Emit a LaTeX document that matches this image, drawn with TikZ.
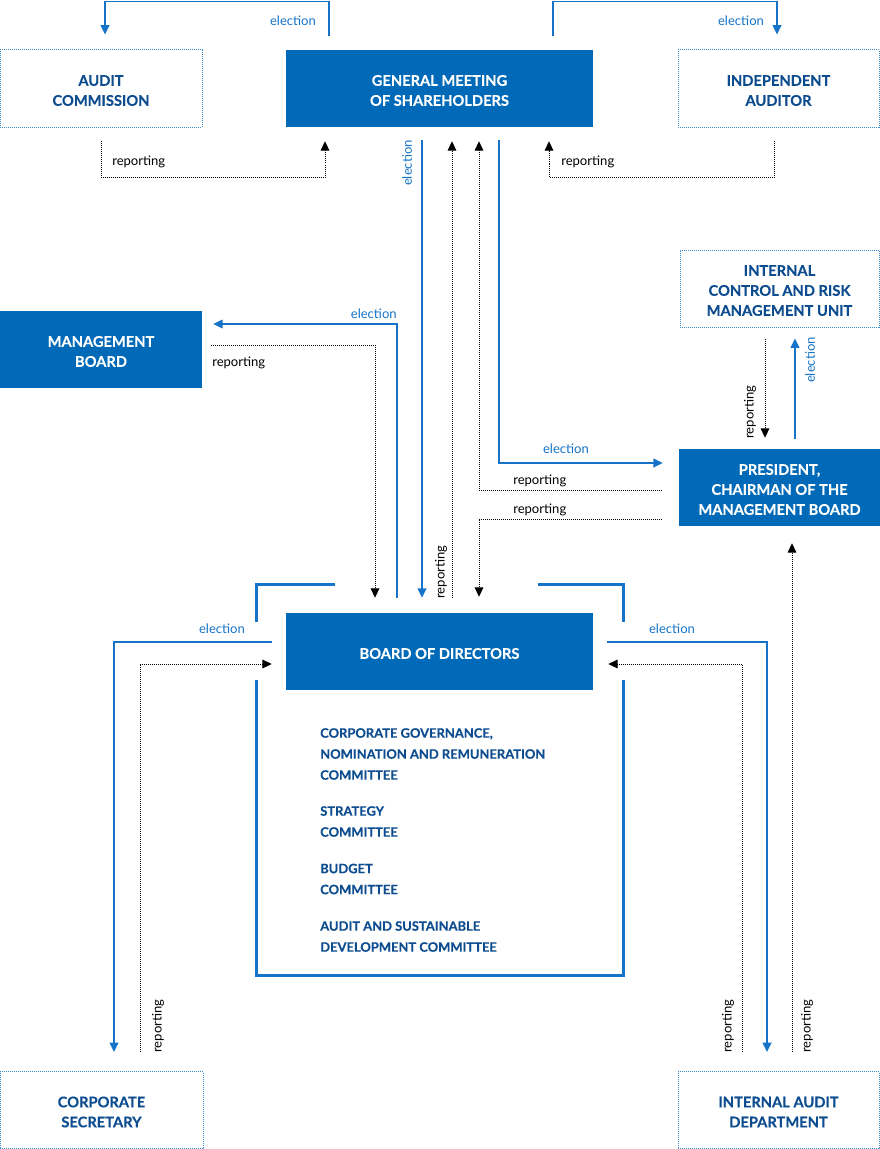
\documentclass[tikz,border=0pt]{standalone}
\usepackage{fontspec}
\setmainfont{Lato}[BoldFeatures={FakeBold=0.3}]
\usetikzlibrary{arrows.meta}
\definecolor{boxblue}{RGB}{0,106,184}
\definecolor{txtblue}{RGB}{12,76,143}
\definecolor{lineblue}{RGB}{22,116,200}
\definecolor{dotblue}{RGB}{62,140,210}
\newcommand{\topgap}{\rule{0pt}{11pt}}

\begin{document}
\begin{tikzpicture}[x=0.75pt,y=-0.75pt,
  >={Triangle[length=7pt,width=6.5pt]},
  solidbox/.style={fill=boxblue,text=white,align=center,inner sep=0pt,
    minimum height=57.75pt,font=\fontsize{11}{15}\selectfont\bfseries},
  dotbox/.style={draw=dotblue,line width=0.75pt,dash pattern=on 0.75pt off 0.75pt,
    text=txtblue,align=center,inner sep=0pt,
    minimum height=57.75pt,font=\fontsize{11}{15}\selectfont\bfseries},
  elec/.style={draw=lineblue,line width=1.1pt,->},
  rep/.style={draw=black,line width=0.75pt,dash pattern=on 0.75pt off 0.75pt,->},
  frame/.style={draw=lineblue,line width=2.25pt},
  lbl/.style={inner sep=0pt,font=\fontsize{9.8}{11}\selectfont},
  comm/.style={inner sep=0pt,align=left,anchor=west,text=txtblue,
    font=\fontsize{9.7}{15.75}\selectfont\bfseries}]
  \useasboundingbox (0,0) rectangle (880,1149);

  % boxes
  \node[dotbox,minimum width=151.5pt] (ac) at (101,88.5) {\topgap AUDIT\\COMMISSION};
  \node[solidbox,minimum width=230.25pt] (gm) at (439.5,88.5) {\topgap GENERAL MEETING\\OF SHAREHOLDERS};
  \node[dotbox,minimum width=150.75pt] (ia) at (778.5,88.5) {\topgap INDEPENDENT\\AUDITOR};
  \node[dotbox,minimum width=149.25pt] (icu) at (779.5,288.5) {\topgap INTERNAL\\CONTROL AND RISK\\MANAGEMENT UNIT};
  \node[solidbox,minimum width=151.5pt] (mb) at (101,349.5) {\topgap MANAGEMENT\\BOARD};
  \node[solidbox,minimum width=150.75pt] (pres) at (779.5,487.5) {\topgap PRESIDENT,\\CHAIRMAN OF THE\\MANAGEMENT BOARD};
  \node[solidbox,minimum width=230.25pt] (bod) at (439.5,651.5) {\topgap BOARD OF DIRECTORS};
  \node[dotbox,minimum width=152.25pt] (cs) at (101.5,1110) {\topgap CORPORATE\\SECRETARY};
  \node[dotbox,minimum width=150.75pt] (iad) at (778.5,1110) {\topgap INTERNAL AUDIT\\DEPARTMENT};

  % frame round the board and its committees
  \draw[frame] (335,584.5) -| (256.5,622);
  \draw[frame] (256.5,680) |- (623.5,975) -- (623.5,680);
  \draw[frame] (623.5,622) |- (538,584.5);
  \node[comm] (cgnr) at (320,754) {CORPORATE GOVERNANCE,\\NOMINATION AND REMUNERATION\\COMMITTEE};
  \node[comm] (strat) at (320,821.5) {STRATEGY\\COMMITTEE};
  \node[comm] (budget) at (320,879) {BUDGET\\COMMITTEE};
  \node[comm] (audsd) at (320,936.5) {AUDIT AND SUSTAINABLE\\DEVELOPMENT COMMITTEE};

  % general meeting
  \draw[elec,shorten <=10.5pt,shorten >=11.25pt] (gm.north -| 329,0) -- (329,1.5) -- (105,1.5) -- (ac.north -| 105,0);
  \node[lbl,text=lineblue] (l1) at (293,20.5) {election};
  \draw[elec,shorten <=10.5pt,shorten >=11.25pt] (gm.north -| 553,0) -- (553,1.5) -- (777,1.5) -- (ia.north -| 777,0);
  \node[lbl,text=lineblue] (l2) at (741,20.5) {election};
  \draw[rep,shorten <=9.75pt,shorten >=10.5pt] (ac.south -| 101,0) -- (101,177) -- (325,177) -- (gm.south -| 325,0);
  \node[lbl,anchor=west] (l3) at (112,161.5) {reporting};
  \draw[rep,shorten <=9.75pt,shorten >=10.5pt] (ia.south -| 774,0) -- (774,177) -- (549,177) -- (gm.south -| 549,0);
  \node[lbl,anchor=west] (l4) at (561,161.5) {reporting};
  \draw[elec,shorten <=9.75pt,shorten >=11.25pt] (gm.south -| 422,0) -- (bod.north -| 422,0);
  \node[lbl,text=lineblue,rotate=90] (l5) at (407,163) {election};
  \draw[rep,shorten <=11.25pt,shorten >=10.5pt] (bod.north -| 452,0) -- (gm.south -| 452,0);
  \node[lbl,rotate=90] (l6) at (441,572) {reporting};

  % president
  \draw[rep,shorten <=12.75pt,shorten >=10.5pt] (pres.west |- 0,490) -- (479,490) -- (gm.south -| 479,0);
  \node[lbl,anchor=west] (l7) at (513,480.5) {reporting};
  \draw[elec,shorten <=9.75pt,shorten >=12pt] (gm.south -| 499,0) -- (499,463) -- (pres.west |- 0,463);
  \node[lbl,text=lineblue] (l8) at (566,448.5) {election};
  \draw[rep,shorten <=12.75pt,shorten >=12pt] (pres.west |- 0,519) -- (479,519) -- (bod.north -| 479,0);
  \node[lbl,anchor=west] (l9) at (513,509.5) {reporting};
  \draw[elec,shorten <=7.5pt,shorten >=8.25pt] (pres.north -| 795,0) -- (icu.south -| 795,0);
  \node[lbl,text=lineblue,rotate=90] (l12) at (810,360) {election};
  \draw[rep,shorten <=8.25pt,shorten >=8.25pt] (icu.south -| 765,0) -- (pres.north -| 765,0);
  \node[lbl,rotate=90] (l13) at (750,412) {reporting};

  % management board
  \draw[elec,shorten <=11.25pt,shorten >=8.25pt] (bod.north -| 397,0) -- (397,324) -- (mb.east |- 0,324);
  \node[lbl,text=lineblue,anchor=east] (l10) at (397,313.5) {election};
  \draw[rep,shorten <=6.75pt,shorten >=11.25pt] (mb.east |- 0,345) -- (375,345) -- (bod.north -| 375,0);
  \node[lbl,anchor=west] (l11) at (212,362.5) {reporting};

  % corporate secretary
  \draw[elec,shorten <=10.5pt,shorten >=14.25pt] (bod.west |- 0,642) -- (114,642) -- (cs.north -| 114,0);
  \node[lbl,text=lineblue] (l14) at (222,628.5) {election};
  \draw[rep,shorten <=14.25pt,shorten >=10.5pt] (cs.north -| 140,0) -- (140,664) -- (bod.west |- 0,664);
  \node[lbl,rotate=90] (l15) at (158,1026) {reporting};

  % internal audit department
  \draw[elec,shorten <=10.5pt,shorten >=14.25pt] (bod.east |- 0,642) -- (767,642) -- (iad.north -| 767,0);
  \node[lbl,text=lineblue] (l16) at (672,628.5) {election};
  \draw[rep,shorten <=14.25pt,shorten >=11.25pt] (iad.north -| 742,0) -- (742,664) -- (bod.east |- 0,664);
  \node[lbl,rotate=90] (l17) at (728,1026) {reporting};
  \draw[rep,shorten <=14.25pt,shorten >=12.75pt] (iad.north -| 792,0) -- (pres.south -| 792,0);
  \node[lbl,rotate=90] (l18) at (807,1026) {reporting};
\end{tikzpicture}
\end{document}
